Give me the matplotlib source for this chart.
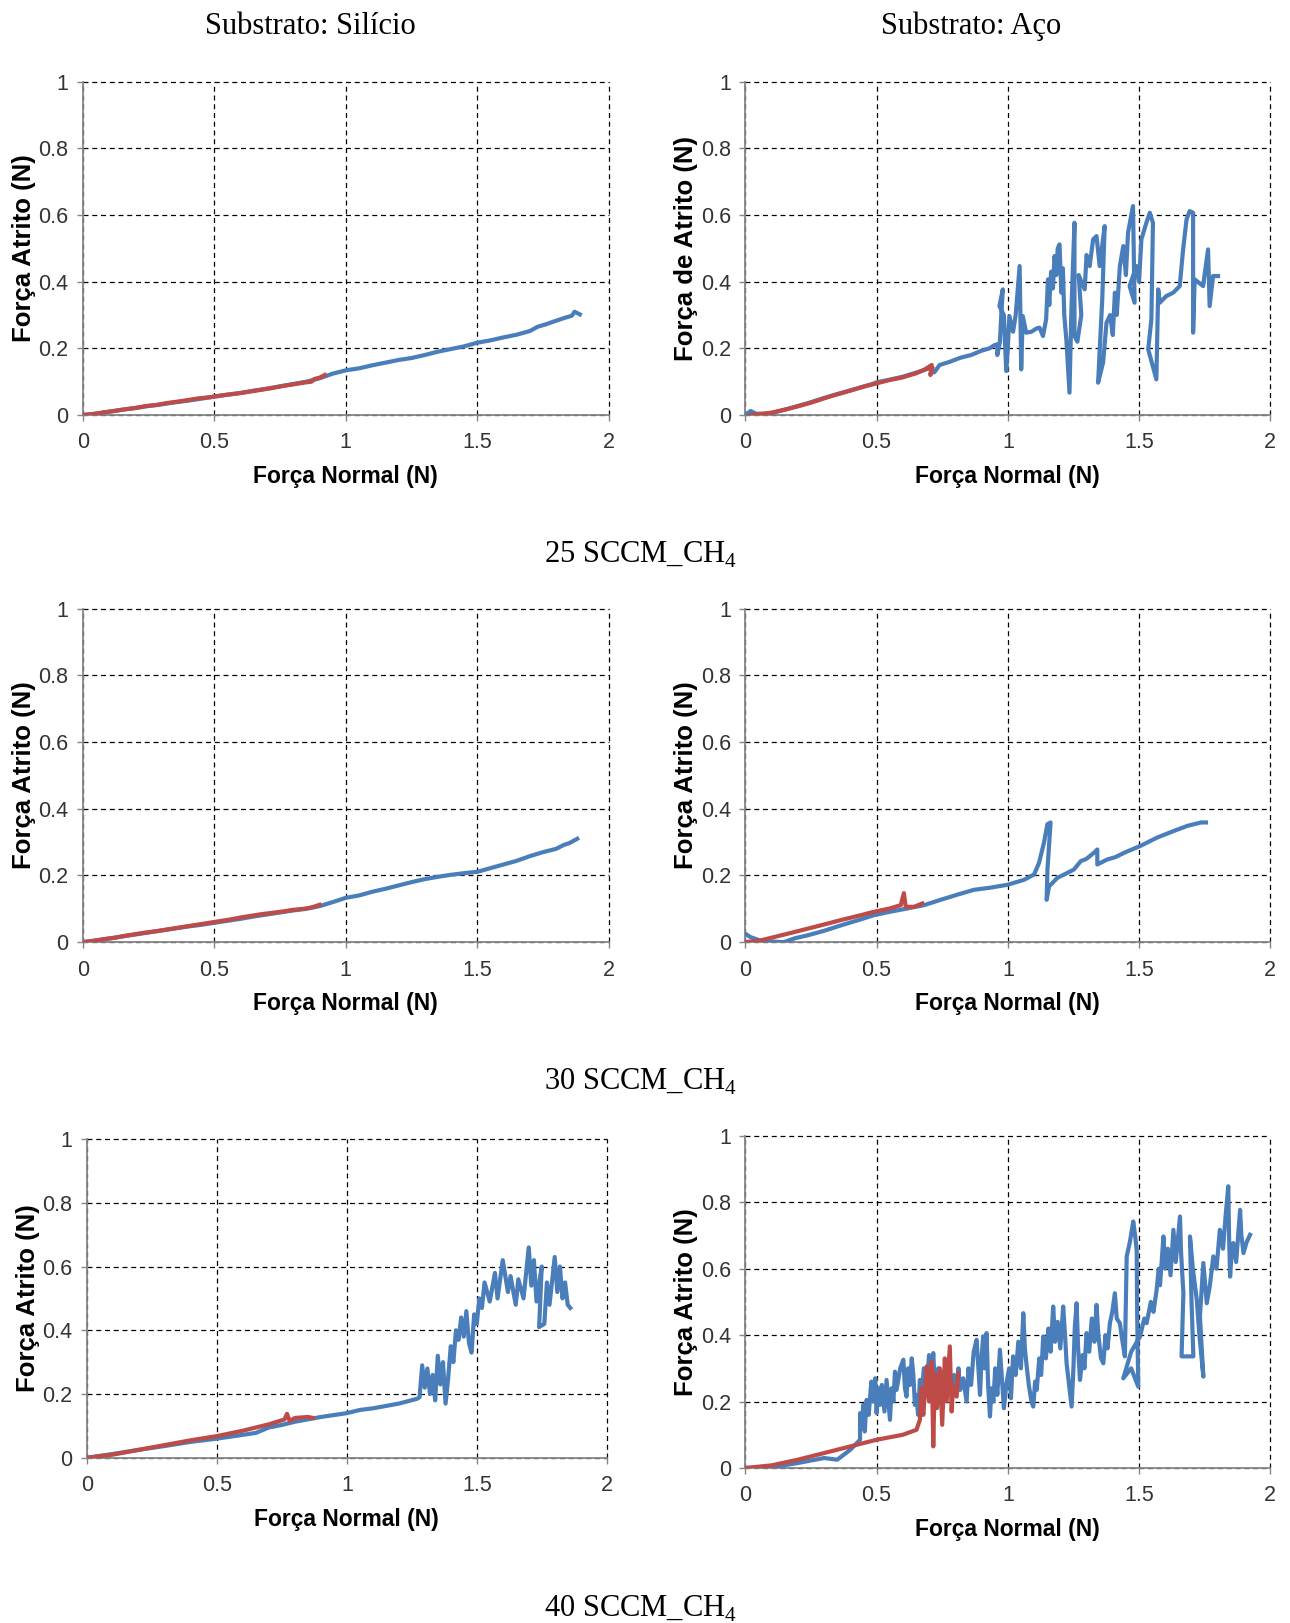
import matplotlib.pyplot as plt
import numpy as np

# colours of the two passes (Excel defaults)
BLUE = '#4A7EBB'
RED = '#BE4B48'

x_ticks = [0, 0.5, 1, 1.5, 2]
x_tick_labels = ['0', '0.5', '1', '1.5', '2']
y_ticks = [0, 0.2, 0.4, 0.6, 0.8, 1]
y_tick_labels = ['0', '0.2', '0.4', '0.6', '0.8', '1']

col_titles = ['Substrato: Silício', 'Substrato: Aço']
row_captions = ['25 SCCM_CH$_\\mathregular{4}$', '30 SCCM_CH$_\\mathregular{4}$',
                '40 SCCM_CH$_\\mathregular{4}$']
x_label = 'Força Normal (N)'
y_labels = [['Força Atrito (N)', 'Força de Atrito (N)'],
            ['Força Atrito (N)', 'Força Atrito (N)'],
            ['Força Atrito (N)', 'Força Atrito (N)']]

# ---- 25 SCCM, silicon ----
si25_blue = [(0, 0), (0.05, 0.004), (0.1, 0.01), (0.15, 0.016), (0.2, 0.021), (0.25, 0.027),
             (0.3, 0.032), (0.35, 0.038), (0.4, 0.043), (0.45, 0.049), (0.5, 0.055), (0.55, 0.061),
             (0.6, 0.066), (0.65, 0.073), (0.7, 0.079), (0.75, 0.086), (0.8, 0.093), (0.85, 0.1),
             (0.9, 0.11), (0.95, 0.124), (1.0, 0.134), (1.05, 0.14), (1.1, 0.149), (1.15, 0.157),
             (1.2, 0.165), (1.25, 0.171), (1.3, 0.18), (1.35, 0.19), (1.4, 0.198), (1.45, 0.206),
             (1.5, 0.217), (1.55, 0.224), (1.6, 0.233), (1.65, 0.241), (1.7, 0.252), (1.73, 0.265),
             (1.76, 0.272), (1.8, 0.283), (1.83, 0.291), (1.86, 0.298), (1.87, 0.31), (1.89, 0.302)]
si25_red = [(0, 0), (0.04, 0.003), (0.08, 0.008), (0.12, 0.012), (0.16, 0.017), (0.2, 0.021),
            (0.24, 0.027), (0.28, 0.03), (0.32, 0.036), (0.36, 0.04), (0.4, 0.045), (0.44, 0.05),
            (0.48, 0.053), (0.52, 0.058), (0.56, 0.062), (0.6, 0.066), (0.64, 0.071), (0.68, 0.076),
            (0.72, 0.081), (0.76, 0.087), (0.8, 0.092), (0.84, 0.097), (0.87, 0.1), (0.88, 0.108),
            (0.9, 0.112), (0.92, 0.12)]

# ---- 25 SCCM, steel ----
aco25_blue = [(0, 0), (0.02, 0.012), (0.04, 0.004), (0.08, 0.002), (0.12, 0.01), (0.16, 0.018),
              (0.2, 0.027), (0.24, 0.036), (0.28, 0.046), (0.32, 0.056), (0.36, 0.065), (0.4, 0.074),
              (0.44, 0.083), (0.48, 0.092), (0.5, 0.098), (0.55, 0.106), (0.6, 0.115), (0.65, 0.127),
              (0.7, 0.14), (0.72, 0.128), (0.74, 0.15), (0.78, 0.16), (0.82, 0.172), (0.86, 0.18),
              (0.9, 0.193), (0.93, 0.2), (0.95, 0.21), (0.96, 0.212), (0.96, 0.18), (0.97, 0.22),
              (0.975, 0.3), (0.981, 0.377), (0.968, 0.327), (0.985, 0.3), (0.994, 0.132), (1.0, 0.2),
              (1.006, 0.297), (1.02, 0.25), (1.03, 0.3), (1.045, 0.447), (1.048, 0.3), (1.051, 0.137),
              (1.057, 0.297), (1.07, 0.247), (1.09, 0.25), (1.11, 0.26), (1.121, 0.262), (1.134, 0.237),
              (1.146, 0.287), (1.153, 0.407), (1.158, 0.33), (1.165, 0.43), (1.172, 0.38), (1.178, 0.477),
              (1.185, 0.42), (1.19, 0.5), (1.197, 0.512), (1.204, 0.367), (1.21, 0.44), (1.215, 0.3),
              (1.223, 0.227), (1.235, 0.067), (1.242, 0.307), (1.254, 0.577), (1.254, 0.237),
              (1.265, 0.22), (1.28, 0.3), (1.27, 0.42), (1.293, 0.377), (1.3, 0.48), (1.312, 0.447),
              (1.325, 0.527), (1.338, 0.537), (1.35, 0.447), (1.369, 0.567), (1.36, 0.35),
              (1.344, 0.097), (1.363, 0.157), (1.376, 0.277), (1.39, 0.3), (1.4, 0.24), (1.408, 0.367),
              (1.415, 0.3), (1.427, 0.447), (1.44, 0.507), (1.45, 0.42), (1.458, 0.547), (1.477, 0.627),
              (1.483, 0.337), (1.464, 0.387), (1.49, 0.447), (1.5, 0.4), (1.509, 0.527), (1.528, 0.577),
              (1.541, 0.607), (1.553, 0.577), (1.547, 0.287), (1.535, 0.197), (1.566, 0.107),
              (1.573, 0.377), (1.579, 0.337), (1.604, 0.357), (1.63, 0.367), (1.655, 0.387),
              (1.668, 0.497), (1.681, 0.587), (1.693, 0.612), (1.706, 0.607), (1.706, 0.247),
              (1.712, 0.407), (1.744, 0.387), (1.763, 0.497), (1.769, 0.327), (1.782, 0.417),
              (1.801, 0.417)]
aco25_red = [(0.02, 0.0), (0.05, 0.003), (0.1, 0.007), (0.15, 0.016), (0.2, 0.026), (0.25, 0.037),
             (0.3, 0.05), (0.35, 0.062), (0.4, 0.073), (0.45, 0.085), (0.5, 0.095), (0.55, 0.105),
             (0.6, 0.113), (0.65, 0.125), (0.68, 0.135), (0.7, 0.145), (0.71, 0.15), (0.705, 0.12),
             (0.712, 0.14)]

# ---- 30 SCCM, silicon ----
si30_blue = [(0, 0), (0.05, 0.005), (0.1, 0.011), (0.15, 0.017), (0.2, 0.023), (0.25, 0.029),
             (0.3, 0.035), (0.35, 0.041), (0.4, 0.047), (0.45, 0.052), (0.5, 0.058), (0.55, 0.064),
             (0.6, 0.07), (0.65, 0.077), (0.7, 0.083), (0.75, 0.089), (0.8, 0.095), (0.85, 0.1),
             (0.9, 0.108), (0.95, 0.12), (1.0, 0.133), (1.05, 0.14), (1.1, 0.151), (1.15, 0.16),
             (1.2, 0.17), (1.25, 0.18), (1.3, 0.189), (1.35, 0.196), (1.4, 0.202), (1.45, 0.207),
             (1.5, 0.211), (1.55, 0.222), (1.6, 0.233), (1.65, 0.244), (1.7, 0.258), (1.75, 0.27),
             (1.8, 0.28), (1.83, 0.292), (1.85, 0.297), (1.88, 0.31)]
si30_red = [(0, 0), (0.04, 0.004), (0.08, 0.009), (0.12, 0.013), (0.16, 0.019), (0.2, 0.024),
            (0.24, 0.029), (0.28, 0.033), (0.32, 0.038), (0.36, 0.043), (0.4, 0.048), (0.44, 0.053),
            (0.48, 0.058), (0.52, 0.063), (0.56, 0.068), (0.6, 0.074), (0.64, 0.079), (0.68, 0.084),
            (0.72, 0.088), (0.76, 0.092), (0.8, 0.097), (0.84, 0.1), (0.87, 0.104), (0.9, 0.112)]

# ---- 30 SCCM, steel ----
aco30_blue = [(0, 0.025), (0.02, 0.015), (0.057, 0.005), (0.1, 0.002), (0.146, 0.0), (0.19, 0.012),
              (0.235, 0.02), (0.3, 0.034), (0.363, 0.05), (0.43, 0.066), (0.49, 0.081), (0.55, 0.091),
              (0.617, 0.101), (0.681, 0.111), (0.744, 0.127), (0.81, 0.143), (0.871, 0.157),
              (0.93, 0.163), (0.998, 0.172), (1.062, 0.187), (1.1, 0.203), (1.119, 0.238),
              (1.138, 0.299), (1.151, 0.354), (1.163, 0.359), (1.151, 0.218), (1.148, 0.127),
              (1.157, 0.167), (1.189, 0.193), (1.22, 0.205), (1.252, 0.218), (1.278, 0.243),
              (1.3, 0.25), (1.328, 0.268), (1.341, 0.278), (1.341, 0.233), (1.379, 0.248),
              (1.41, 0.255), (1.443, 0.268), (1.506, 0.289), (1.57, 0.314), (1.634, 0.334),
              (1.685, 0.349), (1.736, 0.359), (1.755, 0.359)]
aco30_red = [(0, 0.0), (0.057, 0.005), (0.108, 0.015), (0.17, 0.027), (0.235, 0.04), (0.3, 0.053),
             (0.363, 0.066), (0.43, 0.079), (0.49, 0.091), (0.55, 0.101), (0.592, 0.111),
             (0.604, 0.147), (0.611, 0.106), (0.643, 0.106), (0.674, 0.116)]

# ---- 40 SCCM, silicon ----
si40_blue = [(0, 0), (0.1, 0.012), (0.2, 0.025), (0.3, 0.037), (0.4, 0.05), (0.5, 0.06), (0.6, 0.072),
             (0.65, 0.078), (0.7, 0.095), (0.75, 0.103), (0.8, 0.113), (0.9, 0.128), (1.0, 0.14),
             (1.05, 0.15), (1.1, 0.155), (1.2, 0.17), (1.27, 0.185), (1.28, 0.19), (1.29, 0.29),
             (1.3, 0.22), (1.31, 0.28), (1.32, 0.2), (1.33, 0.26), (1.34, 0.18), (1.35, 0.32),
             (1.36, 0.23), (1.37, 0.3), (1.38, 0.17), (1.39, 0.25), (1.4, 0.35), (1.41, 0.3),
             (1.42, 0.4), (1.43, 0.37), (1.44, 0.44), (1.45, 0.38), (1.46, 0.46), (1.47, 0.36),
             (1.48, 0.33), (1.49, 0.45), (1.5, 0.42), (1.51, 0.5), (1.52, 0.47), (1.53, 0.55),
             (1.55, 0.49), (1.57, 0.58), (1.58, 0.5), (1.6, 0.62), (1.62, 0.52), (1.63, 0.57),
             (1.65, 0.48), (1.66, 0.56), (1.68, 0.5), (1.7, 0.66), (1.71, 0.54), (1.72, 0.62),
             (1.73, 0.49), (1.75, 0.6), (1.74, 0.41), (1.76, 0.42), (1.77, 0.55), (1.78, 0.48),
             (1.8, 0.63), (1.81, 0.52), (1.82, 0.6), (1.83, 0.5), (1.84, 0.55), (1.85, 0.48),
             (1.86, 0.47)]
si40_red = [(0, 0), (0.1, 0.01), (0.2, 0.025), (0.3, 0.04), (0.4, 0.055), (0.5, 0.068), (0.6, 0.085),
            (0.7, 0.105), (0.76, 0.12), (0.77, 0.138), (0.78, 0.115), (0.8, 0.125), (0.85, 0.128),
            (0.87, 0.125)]

# ---- 40 SCCM, steel ----
aco40_blue = [(0, 0), (0.1, 0.002), (0.2, 0.015), (0.3, 0.03), (0.35, 0.025), (0.4, 0.055),
              (0.437, 0.085), (0.437, 0.165), (0.445, 0.12), (0.449, 0.19), (0.455, 0.11),
              (0.462, 0.205), (0.47, 0.16), (0.48, 0.26), (0.487, 0.2), (0.495, 0.27), (0.5, 0.165),
              (0.507, 0.24), (0.513, 0.19), (0.52, 0.25), (0.53, 0.17), (0.538, 0.265), (0.545, 0.2),
              (0.551, 0.145), (0.557, 0.24), (0.564, 0.2), (0.57, 0.29), (0.576, 0.235), (0.59, 0.3),
              (0.602, 0.326), (0.608, 0.24), (0.614, 0.215), (0.62, 0.3), (0.627, 0.25), (0.634, 0.33),
              (0.64, 0.28), (0.646, 0.19), (0.652, 0.22), (0.658, 0.16), (0.665, 0.265), (0.672, 0.22),
              (0.68, 0.3), (0.691, 0.25), (0.7, 0.34), (0.708, 0.27), (0.716, 0.346), (0.722, 0.25),
              (0.729, 0.215), (0.735, 0.3), (0.742, 0.24), (0.748, 0.29), (0.755, 0.2), (0.767, 0.23),
              (0.775, 0.31), (0.785, 0.22), (0.795, 0.28), (0.805, 0.24), (0.812, 0.3), (0.818, 0.235),
              (0.83, 0.27), (0.843, 0.2), (0.85, 0.3), (0.86, 0.25), (0.87, 0.35), (0.881, 0.386),
              (0.888, 0.3), (0.894, 0.22), (0.9, 0.33), (0.906, 0.396), (0.912, 0.3), (0.919, 0.406),
              (0.925, 0.25), (0.932, 0.155), (0.938, 0.24), (0.945, 0.2), (0.952, 0.3), (0.96, 0.22),
              (0.97, 0.356), (0.978, 0.26), (0.985, 0.18), (0.995, 0.255), (1.005, 0.3), (1.012, 0.21),
              (1.02, 0.336), (1.03, 0.28), (1.04, 0.38), (1.05, 0.3), (1.059, 0.466), (1.065, 0.36),
              (1.072, 0.305), (1.08, 0.25), (1.09, 0.2), (1.097, 0.185), (1.104, 0.26), (1.11, 0.235),
              (1.12, 0.33), (1.127, 0.28), (1.135, 0.396), (1.145, 0.33), (1.155, 0.42), (1.163, 0.35),
              (1.173, 0.486), (1.18, 0.38), (1.19, 0.44), (1.2, 0.36), (1.211, 0.486), (1.218, 0.4),
              (1.224, 0.315), (1.232, 0.26), (1.243, 0.185), (1.25, 0.3), (1.255, 0.42), (1.262, 0.496),
              (1.268, 0.36), (1.275, 0.265), (1.285, 0.34), (1.292, 0.3), (1.3, 0.406), (1.31, 0.35),
              (1.32, 0.45), (1.33, 0.38), (1.338, 0.491), (1.345, 0.4), (1.355, 0.33), (1.364, 0.315),
              (1.372, 0.4), (1.38, 0.36), (1.389, 0.436), (1.398, 0.47), (1.408, 0.526), (1.415, 0.45),
              (1.427, 0.436), (1.435, 0.39), (1.446, 0.336), (1.45, 0.5), (1.453, 0.637), (1.465, 0.68),
              (1.478, 0.742), (1.485, 0.7), (1.491, 0.657), (1.493, 0.456), (1.497, 0.245), (1.47, 0.3),
              (1.44, 0.27), (1.47, 0.35), (1.504, 0.396), (1.52, 0.45), (1.529, 0.436), (1.545, 0.5),
              (1.555, 0.47), (1.567, 0.536), (1.575, 0.6), (1.58, 0.55), (1.593, 0.697), (1.6, 0.6),
              (1.61, 0.66), (1.62, 0.58), (1.631, 0.717), (1.64, 0.62), (1.656, 0.757), (1.66, 0.65),
              (1.669, 0.526), (1.662, 0.336), (1.707, 0.336), (1.7, 0.5), (1.694, 0.697), (1.705, 0.6),
              (1.72, 0.506), (1.73, 0.4), (1.745, 0.275), (1.732, 0.456), (1.745, 0.617), (1.758, 0.496),
              (1.77, 0.55), (1.783, 0.637), (1.795, 0.6), (1.808, 0.717), (1.82, 0.66), (1.83, 0.76),
              (1.84, 0.848), (1.843, 0.7), (1.847, 0.576), (1.853, 0.65), (1.859, 0.677), (1.87, 0.62),
              (1.885, 0.777), (1.89, 0.7), (1.898, 0.647), (1.91, 0.68), (1.923, 0.702)]
aco40_red = [(0, 0), (0.1, 0.008), (0.2, 0.025), (0.3, 0.045), (0.4, 0.065), (0.5, 0.085),
             (0.6, 0.1), (0.652, 0.115), (0.665, 0.145), (0.67, 0.24), (0.678, 0.16), (0.691, 0.306),
             (0.7, 0.2), (0.71, 0.32), (0.716, 0.065), (0.722, 0.285), (0.73, 0.18), (0.741, 0.3),
             (0.75, 0.13), (0.76, 0.33), (0.767, 0.2), (0.779, 0.366), (0.786, 0.17), (0.792, 0.25),
             (0.805, 0.215), (0.811, 0.285)]

panels = [[(si25_blue, si25_red), (aco25_blue, aco25_red)],
          [(si30_blue, si30_red), (aco30_blue, aco30_red)],
          [(si40_blue, si40_red), (aco40_blue, aco40_red)]]

# axes boxes in figure fraction [left, bottom, width, height]
boxes = [[[0.0642, 0.7443, 0.4077, 0.2053], [0.5778, 0.7443, 0.4069, 0.2053]],
         [[0.0642, 0.4195, 0.4077, 0.2054], [0.5778, 0.4195, 0.4069, 0.2054]],
         [[0.0674, 0.1018, 0.4029, 0.1964], [0.5778, 0.0955, 0.4069, 0.2047]]]

SANS = 'Liberation Sans'


def draw_panel(ax, blue, red, ylab, height_px, width_px):
    b = np.array(blue)
    r = np.array(red)
    ax.plot(b[:, 0], b[:, 1], color=BLUE, lw=3.0, solid_joinstyle='round', zorder=3)
    ax.plot(r[:, 0], r[:, 1], color=RED, lw=3.0, solid_joinstyle='round', zorder=4)

    ax.set_xlim(0, 2)
    ax.set_ylim(0, 1)
    ax.set_xticks(x_ticks)
    ax.set_xticklabels(x_tick_labels, family=SANS, fontsize=15.5, color='#333333')
    ax.set_yticks(y_ticks)
    ax.set_yticklabels(y_tick_labels, family=SANS, fontsize=15.5, color='#333333')
    ax.tick_params(axis='both', direction='out', length=4.5, width=1, color='#868686')
    ax.tick_params(axis='x', pad=8)
    ax.tick_params(axis='y', pad=6)

    ax.grid(True, color='black', lw=0.9, linestyle=(0, (4, 3)))
    for gl in ax.get_xgridlines() + ax.get_ygridlines():
        gl.set_clip_on(False)
    ax.set_axisbelow(True)
    for s in ['top', 'right']:
        ax.spines[s].set_visible(False)
    for s in ['left', 'bottom']:
        ax.spines[s].set_color('#868686')
        ax.spines[s].set_linewidth(1.3)
        ax.spines[s].set_zorder(2.5)

    ax.set_xlabel(x_label, family=SANS, fontweight='bold', fontsize=16.5)
    ax.xaxis.set_label_coords(0.5, -50 / height_px)
    ax.set_ylabel(ylab, family=SANS, fontweight='bold', fontsize=18.5)
    ax.yaxis.set_label_coords(-47 / width_px, 0.5)


fig = plt.figure(figsize=(12.9, 16.23), dpi=100)

for i in range(3):
    for j in range(2):
        box = boxes[i][j]
        ax = fig.add_axes(box)
        blue, red = panels[i][j]
        draw_panel(ax, blue, red, y_labels[i][j], box[3] * 1623, box[2] * 1290)

# column titles
fig.text(310.6 / 1290, 1 - 26 / 1623, col_titles[0], family='Liberation Serif', fontsize=22,
         ha='center', va='center')
fig.text(971 / 1290, 1 - 26 / 1623, col_titles[1], family='Liberation Serif', fontsize=22,
         ha='center', va='center')

# row captions
for cap, yp in zip(row_captions, [555, 1082, 1609]):
    fig.text(641 / 1290, 1 - yp / 1623, cap, family='Liberation Serif', fontsize=22,
             ha='center', va='center')

plt.savefig('out.png', dpi=100)
